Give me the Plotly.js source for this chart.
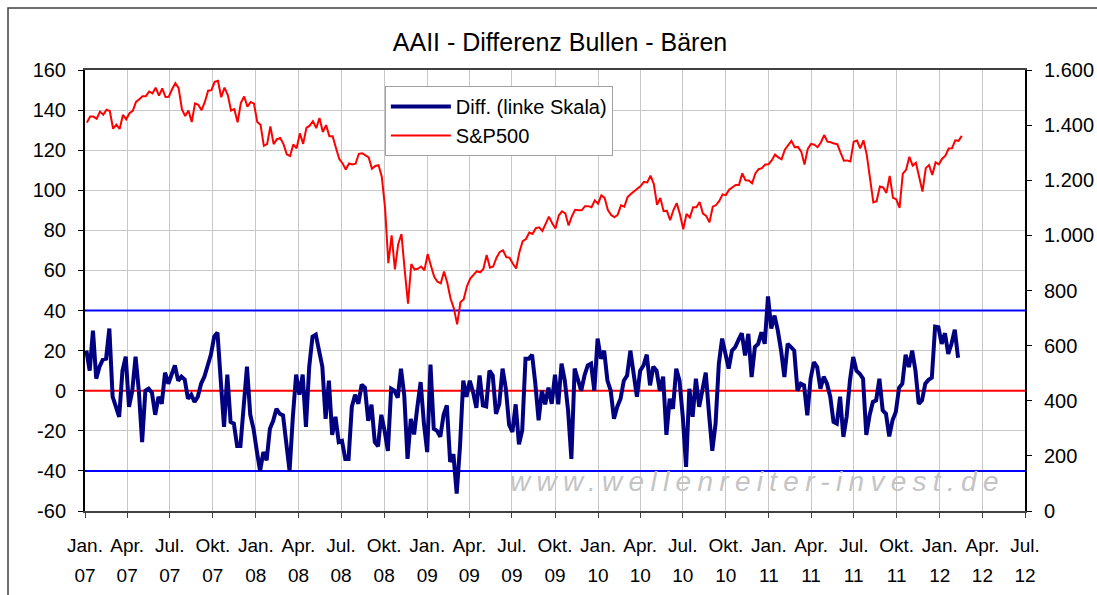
<!DOCTYPE html>
<html><head><meta charset="utf-8">
<script src="https://cdn.plot.ly/plotly-3.0.1.min.js"></script>
<style>html,body{margin:0;padding:0;background:#fff}#chart{width:1097px;height:595px}</style>
</head><body><div id="chart"></div>
<script>
// AAII Bull-Bear spread, weekly (Thursdays), per year
const diff2007 = [20,10,30,6,12,15.5,16,31,-3,-8,-13,10,17,-8,0,17,0,-25.6,0,1,-1,-12,-3,-6.5,9,3.5,8,12.6,5,7,5.6,-4,-2,-5.6,-3,3.5,7,12,18,27,29,5,-18,8,-15.6,-16.4,-27.6,-27.6,-10,12,-12,-19];
const diff2008 = [-30,-40,-30.6,-34.7,-19,-15,-9,-11.5,-12.3,-26,-40,-13,8,-2,8,-18,12,27,28,20,12,-14,5,-22,-13,-25.6,-25,-34,-34,-8,-2,-6.5,3,1.5,-15,-7,-25.6,-27.7,-12,-20,-30,1,0,-3.5,11,-2.3,-34,-14,-21.8,-8,4.3,-16.4];
const diff2009 = [-30.6,13,-19,-20,-23,-12,-7.3,-35.5,-31.7,-51.3,-28,5,-3,5,-0.7,-8.5,7.6,-7.3,-7.8,10,7.6,-11.5,-6.5,11,1,-17,-20.6,-6.8,-26.7,-19.8,16,16,18,3.5,-14.8,0,-6.8,1.5,-6.5,8,-6.8,13.5,5,-10,-34,11,6,0,7.6,12.6,13.5,0,26];
const diff2010 = [16,20,5,0,-14,-8,-4,5,7.6,20,8.5,-3,10,12.6,18,2.7,12,10,0,7,-22,-4,-9,11,5,-13,-38,1,-13,6,-8,0,9,-11.5,-30,-16.4,13.5,26,17.6,11,20,21.8,25.4,28.7,17.6,28.4,6.8,21.8,23.4,29.2,23.4,47];
const diff2011 = [31,37.5,30,20,6.8,23.4,21.8,20,0,3.5,2.7,-12.3,6,14.3,11.8,1,7,3.5,-3,-15.6,-16.4,-3,-23,-13,5,16.8,10,8.5,6,-22,-12.3,-5.6,-4.8,6,-9.8,-11.5,-22.8,-14.8,-10.6,1.5,3.5,18,11.8,20,10,-6.5,-4.8,3.5,5.5,6.5,32,31.7];
const diff2012 = [23.4,28.7,18.4,23.4,30.4,16.4];
const diffFirstWeek = '2007-01-04';

// S&P 500, weekly (Fridays), per year
const spx2007 = [1409,1431,1431,1423,1449,1438,1456,1451,1387,1402,1386,1437,1421,1443,1452,1484,1494,1505,1505,1522,1515,1536,1507,1533,1502,1503,1530,1552,1534,1458,1433,1453,1411,1479,1474,1454,1484,1525,1527,1557,1561,1501,1536,1509,1453,1458,1410,1481,1504,1467,1484,1478];
const spx2008 = [1411,1401,1325,1331,1395,1331,1349,1353,1331,1294,1288,1330,1316,1370,1332,1390,1398,1414,1389,1426,1375,1400,1360,1360,1318,1278,1262,1239,1261,1257,1260,1296,1298,1292,1283,1242,1252,1255,1213,1099,899,1000,877,968,1005,873,752,896,876,879,887,873];
const spx2009 = [932,890,850,832,826,869,827,770,735,677,757,768,816,843,857,870,866,878,929,883,887,919,940,946,921,919,897,880,940,979,987,1010,1005,1026,1029,1016,1042,1068,1044,1025,1072,1087,1080,1036,1069,1093,1091,1091,1106,1106,1102,1127,1115];
const spx2010 = [1145,1136,1092,1074,1066,1075,1109,1104,1139,1150,1160,1167,1179,1194,1192,1217,1187,1111,1136,1088,1089,1055,1092,1117,1076,1022,1078,1065,1102,1102,1121,1079,1071,1047,1104,1110,1125,1149,1146,1166,1176,1183,1183,1225,1200,1199,1189,1225,1240,1244,1257,1258];
const spx2011 = [1272,1293,1283,1276,1311,1329,1343,1320,1321,1304,1257,1314,1332,1329,1320,1337,1364,1340,1338,1333,1331,1300,1271,1272,1268,1340,1344,1316,1345,1292,1199,1120,1124,1177,1174,1154,1216,1136,1131,1100,1224,1238,1285,1253,1263,1216,1159,1244,1255,1219,1265,1258];
const spx2012 = [1278,1289,1315,1316,1345,1343,1361];
const spxFirstWeek = '2007-01-05';

// axis ticks
const tickDates = ['2007-01-01','2007-04-01','2007-07-01','2007-10-01','2008-01-01','2008-04-01','2008-07-01','2008-10-01','2009-01-01','2009-04-01','2009-07-01','2009-10-01','2010-01-01','2010-04-01','2010-07-01','2010-10-01','2011-01-01','2011-04-01','2011-07-01','2011-10-01','2012-01-01','2012-04-01','2012-07-01'];
const tickMonths = ['Jan.','Apr.','Jul.','Okt.','Jan.','Apr.','Jul.','Okt.','Jan.','Apr.','Jul.','Okt.','Jan.','Apr.','Jul.','Okt.','Jan.','Apr.','Jul.','Okt.','Jan.','Apr.','Jul.'];
const tickYears = ['07','07','07','07','08','08','08','08','09','09','09','09','10','10','10','10','11','11','11','11','12','12','12'];
const leftTickVals = [-60,-40,-20,0,20,40,60,80,100,120,140,160];
const leftTickText = ['-60','-40','-20','0','20','40','60','80','100','120','140','160'];
const bandLevels = [40, -40];
const zeroLevel = 0;

function weekly(start, n) {
  const t0 = Date.parse(start + 'T00:00:00Z');
  const out = [];
  for (let i = 0; i < n; i++) out.push(new Date(t0 + i * 7 * 86400000).toISOString().slice(0, 10));
  return out;
}
const diffValues = [].concat(diff2007, diff2008, diff2009, diff2010, diff2011, diff2012);
const spxValues = [].concat(spx2007, spx2008, spx2009, spx2010, spx2011, spx2012);
const diffDates = weekly(diffFirstWeek, diffValues.length);
const spxDates = weekly(spxFirstWeek, spxValues.length);

const FONT = 'Liberation Sans, Arial, sans-serif';
const xRange = ['2007-01-01', '2012-07-01'];

// horizontal reference levels drawn as full-width lines under the data line
function levelLine(v, color) {
  return {x: xRange, y: [v, v], type: 'scatter', mode: 'lines', showlegend: false, hoverinfo: 'skip',
    line: {color: color, width: 2}, xaxis: 'x', yaxis: 'y', cliponaxis: false};
}
const traces = [
  levelLine(bandLevels[0], '#0000ff'),
  levelLine(bandLevels[1], '#0000ff'),
  levelLine(zeroLevel, '#ff0000'),
  {x: diffDates, y: diffValues, type: 'scatter', mode: 'lines', name: 'Diff. (linke Skala)',
   line: {color: '#000080', width: 4}, xaxis: 'x', yaxis: 'y'},
  {x: spxDates, y: spxValues, type: 'scatter', mode: 'lines', name: 'S&P500',
   line: {color: '#ff0000', width: 2}, xaxis: 'x2', yaxis: 'y2'}
];

const shapes = [{type: 'rect', xref: 'paper', yref: 'paper', x0: -0.0819, x1: 1.3, y0: -0.4, y1: 1.1406,
  line: {color: '#404040', width: 1.5}, fillcolor: 'rgba(0,0,0,0)', layer: 'above'}];

const layout = {
  width: 1097, height: 595,
  margin: {l: 85, r: 72, t: 70, b: 84},
  paper_bgcolor: '#ffffff', plot_bgcolor: '#ffffff',
  separators: ',.',
  font: {family: FONT, color: '#000000', size: 20},
  showlegend: true,
  title: {text: 'AAII - Differenz Bullen - Bären', font: {family: FONT, size: 25, color: '#000'},
    xref: 'container', yref: 'container', x: 0.5105, y: 0.929, xanchor: 'center', yanchor: 'middle'},
  xaxis: {type: 'date', range: xRange, tickmode: 'array', tickvals: tickDates, ticktext: tickMonths,
    ticks: 'outside', ticklen: 5, tickcolor: '#404040', tickangle: 0,
    showgrid: true, gridcolor: '#c8c8c8', gridwidth: 1,
    showline: true, linecolor: '#404040', linewidth: 1.5, mirror: true,
    tickfont: {family: FONT, size: 19, color: '#000'}, ticklabelstandoff: 11, anchor: 'y', zeroline: false},
  xaxis2: {type: 'date', range: xRange, overlaying: 'x', anchor: 'y', side: 'bottom',
    tickmode: 'array', tickvals: tickDates, ticktext: tickYears, ticks: '', tickangle: 0,
    showgrid: false, showline: false, zeroline: false,
    tickfont: {family: FONT, size: 19, color: '#000'}, ticklabelstandoff: 51},
  yaxis: {range: [-60, 160], tickmode: 'array', tickvals: leftTickVals, ticktext: leftTickText,
    ticks: 'outside', ticklen: 5, tickcolor: '#000',
    showgrid: true, gridcolor: '#c8c8c8', gridwidth: 1, zeroline: false,
    showline: true, linecolor: '#000', linewidth: 2,
    tickfont: {family: FONT, size: 20, color: '#000'}, ticklabelstandoff: 8},
  yaxis2: {range: [0, 1600], tickmode: 'linear', tick0: 0, dtick: 200, tickformat: ',d',
    overlaying: 'y', side: 'right', anchor: 'x',
    ticks: 'outside', ticklen: 5, tickcolor: '#000',
    showgrid: false, zeroline: false, showline: true, linecolor: '#000', linewidth: 2,
    tickfont: {family: FONT, size: 20, color: '#000'}, ticklabelstandoff: 8},
  legend: {x: 0.319, y: 0.964, xanchor: 'left', yanchor: 'top', bgcolor: '#ffffff',
    bordercolor: '#a0a0a0', borderwidth: 1, font: {family: FONT, size: 20, color: '#000'},
    tracegroupgap: 0, itemwidth: 60},
  shapes: shapes,
  annotations: [{xref: 'paper', yref: 'paper', x: 0.7154, y: 0.066, xanchor: 'center', yanchor: 'middle',
    showarrow: false, text: '<span style="letter-spacing:6.3px">www.wellenreiter-invest.de</span>',
    font: {family: FONT, size: 28, color: '#c4c4c4', style: 'italic'}}]
};

Plotly.newPlot('chart', traces, layout, {displayModeBar: false, responsive: false});
</script>
</body></html>
